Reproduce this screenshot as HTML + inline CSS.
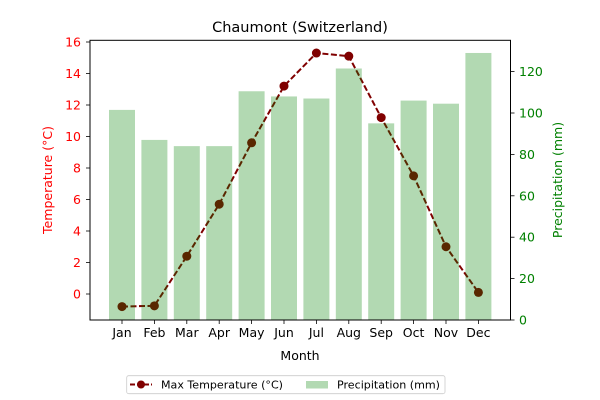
<!DOCTYPE html>
<html><head><meta charset="utf-8"><style>
body{margin:0;background:#fff}
svg{font-family:"DejaVu Sans","Liberation Sans",sans-serif;display:block}
</style></head><body>
<svg id="chart" width="600" height="400" viewBox="0 0 600 400">
<text x="300" y="32" text-anchor="middle" font-size="14.5">Chaumont (Switzerland)</text>
<g id="plot"></g>
<rect x="90" y="40.3" width="420.5" height="279.7" fill="none" stroke="#000" stroke-width="1"/>
<text x="300" y="360" text-anchor="middle" font-size="12.5">Month</text>
<text transform="translate(52,180) rotate(-90)" text-anchor="middle" font-size="12.5" fill="red">Temperature (°C)</text>
<text transform="translate(562,180) rotate(-90)" text-anchor="middle" font-size="12.5" fill="green">Precipitation (mm)</text>
<g>
<rect x="126.7" y="375.7" width="318.3" height="18" rx="2" fill="#fff" stroke="#ccc" stroke-width="0.8"/>
<line x1="130" y1="384.5" x2="152" y2="384.5" stroke="#800000" stroke-width="2" stroke-dasharray="5,2"/>
<circle cx="141" cy="384.5" r="4" fill="#800000"/>
<text x="161" y="388.5" font-size="10.5" textLength="122" lengthAdjust="spacingAndGlyphs">Max Temperature (°C)</text>
<rect x="306" y="381" width="22" height="7.5" fill="green" fill-opacity="0.3"/>
<text x="337" y="388.5" font-size="10.5" textLength="103" lengthAdjust="spacingAndGlyphs">Precipitation (mm)</text>
</g>
</svg>
<script>
const months=["Jan","Feb","Mar","Apr","May","Jun","Jul","Aug","Sep","Oct","Nov","Dec"];
const maxTemp=[-0.8,-0.75,2.4,5.7,9.6,13.2,15.3,15.1,11.2,7.5,3.0,0.1];
const precip=[101.5,87,84,84,110.5,108,107,121.5,95,106,104.5,129];
const leftTicks=[0,2,4,6,8,10,12,14,16];
const rightTicks=[0,20,40,60,80,100,120];
const NS="http://www.w3.org/2000/svg";
const g=document.getElementById("plot");
const x=i=>122+i*32.4;
const yL=v=>294-v*15.75;
const yR=v=>320-v*2.07;
function mk(t,a){const e=document.createElementNS(NS,t);for(const k in a)e.setAttribute(k,a[k]);g.appendChild(e);return e;}
let d=maxTemp.map((v,i)=>(i?"L":"M")+x(i)+","+yL(v)).join(" ");
const ln=mk("path",{d:d,fill:"none",stroke:"#800000","stroke-width":2,"stroke-dasharray":"6,2.5"});


maxTemp.forEach((v,i)=>{const c=mk("circle",{cx:x(i),cy:yL(v),r:4.5,fill:"#800000"});

});
precip.forEach((v,i)=>{const r=mk("rect",{x:x(i)-13,y:yR(v),width:26,height:320-yR(v),fill:"green","fill-opacity":0.3});

});
months.forEach((m,i)=>{mk("line",{x1:x(i),x2:x(i),y1:320,y2:324,stroke:"#000","stroke-width":0.8});
const t=mk("text",{x:x(i),y:337,"text-anchor":"middle","font-size":12.5});t.textContent=m;

});
leftTicks.forEach(v=>{mk("line",{x1:86,x2:90,y1:yL(v),y2:yL(v),stroke:"#000","stroke-width":0.8});
const t=mk("text",{x:81,y:yL(v)+4.5,"text-anchor":"end","font-size":12.5,fill:"red"});t.textContent=v;

});
rightTicks.forEach(v=>{mk("line",{x1:510.5,x2:514.5,y1:yR(v),y2:yR(v),stroke:"#000","stroke-width":0.8});
const t=mk("text",{x:519,y:yR(v)+4.5,"font-size":12.5,fill:"green"});t.textContent=v;

});
</script>
</body></html>
